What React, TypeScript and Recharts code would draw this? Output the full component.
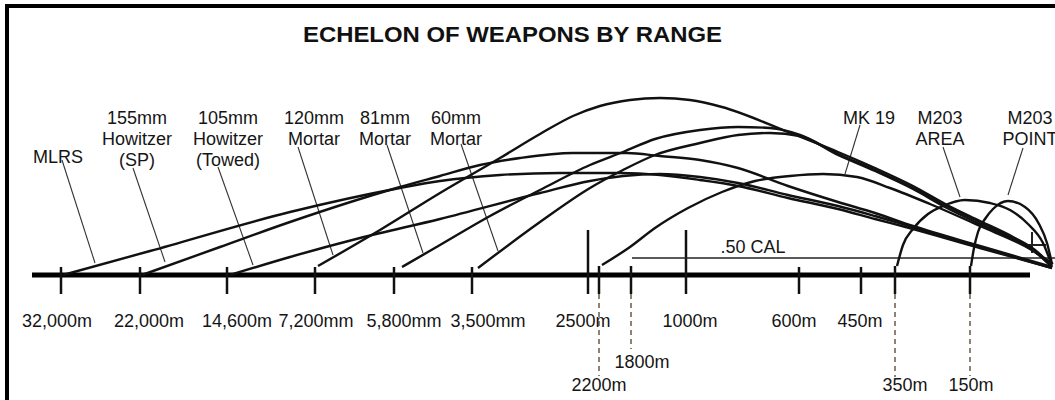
import React from 'react';
import { ComposedChart, Line, Scatter, XAxis, YAxis, ReferenceLine } from 'recharts';

const FONT = "'Liberation Sans', Arial, Helvetica, sans-serif";

// Diagram units: x = position along the range line, h = height above the range line
const mlrsArc = [[63,0],[150,24],[290,63],[400,87],[440,94],[500,100],[560,102],[620,102],[660,100],[700,95],[738,89],[788,77],[838,66],[875,56],[913,46],[980,27],[1052,7]];
const how155Arc = [[142,0],[220,28],[290,53],[400,88],[440,99],[480,110],[520,117],[573,122],[627,122],[660,119],[700,115],[738,107],[788,89],[838,73],[875,62],[913,49],[980,29],[1052,8]];
const how105Arc = [[230,0],[290,18],[360,37],[440,56],[540,82],[590,94],[623,99],[660,101],[700,98],[738,92],[788,80],[838,69],[875,59],[913,48],[980,28],[1052,7]];
const mortar120Arc = [[318,9],[380,45],[440,82],[500,117],[540,141],[573,159],[600,169],[630,175],[660,177],[690,175],[722,168],[788,143],[838,123],[875,107],[913,89],[947,70],[980,54],[1013,38],[1035,25],[1052,9]];
const mortar81Arc = [[402,8],[440,30],[490,59],[540,85],[590,110],[623,123],[655,136],[700,145],[738,148],[770,147],[800,140],[838,121],[875,105],[913,87],[947,69],[980,53],[1013,37],[1035,24],[1052,8]];
const mortar60Arc = [[478,7],[540,53],[590,87],[623,105],[655,120],[700,132],[738,140],[770,142],[800,139],[838,120],[875,104],[913,86],[947,67],[980,51],[1013,36],[1035,23],[1052,8]];
const mk19Arc = [[602,10],[630,28],[655,47],[688,67],[722,83],[755,94],[790,99],[823,101],[857,98],[890,87],[930,71],[980,49],[1030,26],[1053,11]];
const m203AreaArc = [[897,9],[903,30],[913,46],[928,61],[943,69],[965,75],[990,72],[1010,65],[1028,51],[1043,32],[1051,12]];
const m203PointArc = [[971,9],[974,27],[978,43],[985,56],[993,66],[1008,74],[1025,68],[1039,51],[1047,32],[1052,11]];

const arcs = [mlrsArc, how155Arc, how105Arc, mortar120Arc, mortar81Arc, mortar60Arc, mk19Arc, m203AreaArc, m203PointArc];

// Range line and ticks
const rangeLine = [[32,0],[1030,0]];
const minorTicks = [61,140,227,315,394,472,799,861];
const majorTicks = [588,686];
const dashedTicks = [599,631,895,970];
const dashedDepth = [-101,-74,-102,-101];
const calLine = [[632,17],[1055,17]];
const calCross = [[[1032,43],[1032,22]],[[1022,30],[1046,30]]];

// Tick labels
const tickLabelText = ['32,000m','22,000m','14,600m','7,200mm','5,800mm','3,500mm','2500m','1000m','600m','450m','1800m','2200m','350m','150m'];
const tickLabelX = [57,149,237,316,404,488,583,690,794,860,642,599,905,971];
const tickLabelH = [-52,-52,-52,-52,-52,-52,-52,-52,-52,-52,-93,-116,-116,-116];

// Weapon labels
const weaponNames = [['MLRS'],['155mm','Howitzer','(SP)'],['105mm','Howitzer','(Towed)'],['120mm','Mortar'],['81mm','Mortar'],['60mm','Mortar'],['MK 19'],['M203','AREA'],['M203','POINT'],['.50 CAL']];
const weaponLabelX = [58,137,228,314,385,456,869,940,1030,753];
const weaponLabelH = [112,151,151,151,151,151,151,151,151,22];

// Leader lines
const leaderFrom = [[62,115],[133,107],[218,108],[298,128],[387,130],[461,131],[860,150],[943,128],[1023,127]];
const leaderTo = [[95,12],[165,13],[253,10],[333,20],[423,22],[498,24],[845,101],[960,78],[1008,80]];

const titleText = 'ECHELON OF WEAPONS BY RANGE';
const titlePos = [512.5, 233];

const toPts = (a: number[][]) => a.map(([x, h]) => ({ x, h }));
const seg = (a: number[][]) => a.map(([x, h]) => ({ x, y: h }));

const weaponData = weaponNames.map((lines, i) => ({ x: weaponLabelX[i], h: weaponLabelH[i], lines }));
const tickLabelData = tickLabelText.map((t, i) => ({ x: tickLabelX[i], h: tickLabelH[i], lines: [t] }));
const titleData = [{ x: titlePos[0], h: titlePos[1], lines: [titleText] }];

const LabelShape = (p: any) => {
  const { cx, cy, payload } = p;
  if (cx == null || cy == null) return null;
  return (
    <text x={cx} y={cy} textAnchor="middle" fontFamily={FONT} fontSize={18} fill="#151515">
      {payload.lines.map((l: string, i: number) => (
        <tspan key={i} x={cx} dy={i === 0 ? 0 : 21}>{l}</tspan>
      ))}
    </text>
  );
};

const TitleShape = (p: any) => {
  const { cx, cy, payload } = p;
  if (cx == null || cy == null) return null;
  return (
    <text x={cx} y={cy} textAnchor="middle" fontFamily={FONT} fontSize={21.5} fontWeight="bold" fill="#111" textLength={419} lengthAdjust="spacingAndGlyphs">
      {payload.lines[0]}
    </text>
  );
};

export default function App() {
  return (
    <div style={{ position: 'absolute', left: 0, top: 0, width: 1055, height: 400, overflow: 'hidden', background: '#fff' }}>
      <div style={{ position: 'absolute', left: 5, top: 4, width: 1200, height: 600, borderTop: '4px solid #000', borderLeft: '4px solid #000' }} />
      <div style={{ position: 'absolute', left: 0, top: 0 }}>
        <ComposedChart width={1055} height={400} margin={{ top: 0, right: 0, bottom: 0, left: 0 }}>
          <XAxis type="number" dataKey="x" domain={[0, 1055]} hide allowDataOverflow />
          <YAxis type="number" dataKey="h" domain={[-125, 275]} hide allowDataOverflow />

          <ReferenceLine segment={seg(rangeLine)} stroke="#000" strokeWidth={5} ifOverflow="visible" />
          {minorTicks.map((x) => (
            <ReferenceLine key={'mi' + x} segment={[{ x, y: 8 }, { x, y: -19 }]} stroke="#111" strokeWidth={2.5} ifOverflow="visible" />
          ))}
          {majorTicks.map((x) => (
            <ReferenceLine key={'ma' + x} segment={[{ x, y: 45 }, { x, y: -19 }]} stroke="#111" strokeWidth={2.5} ifOverflow="visible" />
          ))}
          {dashedTicks.map((x) => (
            <ReferenceLine key={'ds' + x} segment={[{ x, y: 9 }, { x, y: -19 }]} stroke="#111" strokeWidth={2.5} ifOverflow="visible" />
          ))}
          {dashedTicks.map((x, i) => (
            <ReferenceLine key={'dd' + x} segment={[{ x, y: -19 }, { x, y: dashedDepth[i] }]} stroke="#6a5a4a" strokeWidth={1.5} strokeDasharray="5 4" ifOverflow="visible" />
          ))}
          <ReferenceLine segment={seg(calLine)} stroke="#222" strokeWidth={1.6} ifOverflow="visible" />
          {calCross.map((c, i) => (
            <ReferenceLine key={'cc' + i} segment={seg(c)} stroke="#222" strokeWidth={2} ifOverflow="visible" />
          ))}
          {leaderFrom.map((f, i) => (
            <ReferenceLine key={'ld' + i} segment={seg([f, leaderTo[i]])} stroke="#333" strokeWidth={1.1} ifOverflow="visible" />
          ))}

          {arcs.map((a, i) => (
            <Line key={'arc' + i} data={toPts(a)} dataKey="h" type="monotone" dot={false} activeDot={false} stroke="#111" strokeWidth={2.4} isAnimationActive={false} legendType="none" />
          ))}

          <Scatter data={weaponData} dataKey="h" shape={LabelShape} isAnimationActive={false} />
          <Scatter data={tickLabelData} dataKey="h" shape={LabelShape} isAnimationActive={false} />
          <Scatter data={titleData} dataKey="h" shape={TitleShape} isAnimationActive={false} />
        </ComposedChart>
      </div>
    </div>
  );
}
